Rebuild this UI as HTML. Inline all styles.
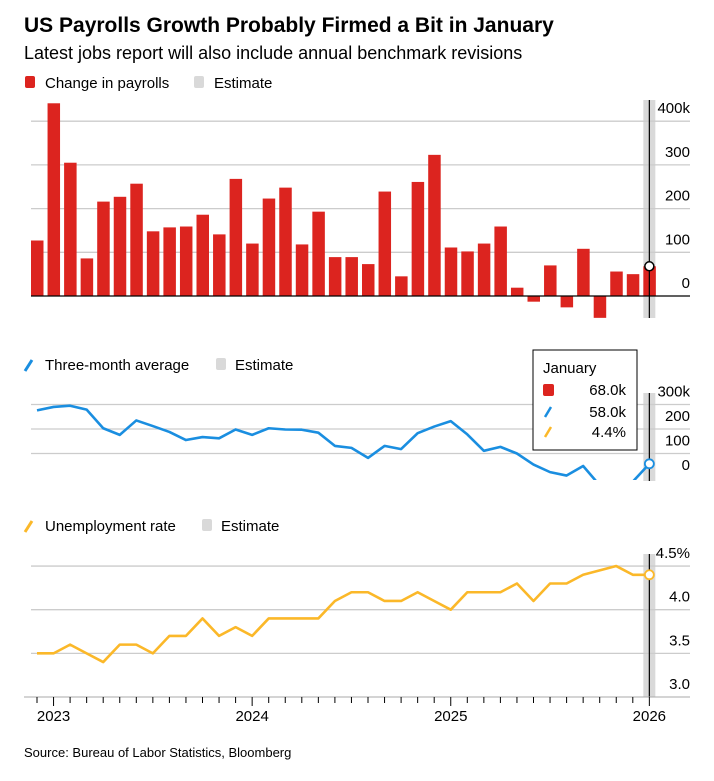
<!DOCTYPE html>
<html><head><meta charset="utf-8"><style>
body{margin:0;background:#fff;font-family:"Liberation Sans",Arial,sans-serif;}
svg text{font-family:"Liberation Sans",Arial,sans-serif;}
</style></head><body>
<svg id="c" width="714" height="776" xmlns="http://www.w3.org/2000/svg">
<text x="24" y="32" font-size="21" font-weight="bold" fill="#000">US Payrolls Growth Probably Firmed a Bit in January</text>
<text x="24" y="59" font-size="18" fill="#000">Latest jobs report will also include annual benchmark revisions</text>
<g>
<rect x="25" y="76" width="10" height="12" rx="2" fill="#dc241f"/>
<text x="45" y="88" font-size="15">Change in payrolls</text>
<rect x="194" y="76" width="10" height="12" rx="2" fill="#d9d9d9"/>
<text x="214" y="88" font-size="15">Estimate</text>
</g>
<g>
<line x1="25" y1="371" x2="32" y2="360" stroke="#1a8ee0" stroke-width="3"/>
<text x="45" y="370" font-size="15">Three-month average</text>
<rect x="216" y="358" width="10" height="12" rx="2" fill="#d9d9d9"/>
<text x="235" y="370" font-size="15">Estimate</text>
</g>
<g>
<line x1="25" y1="532" x2="32" y2="521" stroke="#fbb829" stroke-width="3"/>
<text x="45" y="531" font-size="15">Unemployment rate</text>
<rect x="202" y="519" width="10" height="12" rx="2" fill="#d9d9d9"/>
<text x="221" y="531" font-size="15">Estimate</text>
</g>
<g id="g1"></g><g id="g2"></g><g id="g3"></g><g id="gx"></g>
<g>
<rect x="533" y="350" width="104" height="100" fill="#fff" stroke="#000" stroke-width="1"/>
<text x="543" y="373" font-size="15">January</text>
<rect x="543" y="384" width="11" height="12" rx="2" fill="#dc241f"/>
<text x="626" y="395" font-size="15" text-anchor="end">68.0k</text>
<line x1="545" y1="417" x2="551" y2="407" stroke="#1a8ee0" stroke-width="2.5"/>
<text x="626" y="417" font-size="15" text-anchor="end">58.0k</text>
<line x1="545" y1="437" x2="551" y2="427" stroke="#fbb829" stroke-width="2.5"/>
<text x="626" y="437" font-size="15" text-anchor="end">4.4%</text>
</g>
<text x="24" y="757" font-size="13">Source: Bureau of Labor Statistics, Bloomberg</text>
</svg>
<script>
const payrolls=[127,441,305,86,216,227,257,148,157,159,186,141,268,120,223,248,118,193,89,89,73,239,45,261,323,111,102,120,159,19,-13,70,-26,108,-50,56,50,68];
const avg3=[276,290,295,279,203,176,235,212,188,155,167,162,198,176,203,198,197,185,131,123,82,131,118,183,210,232,178,111,127,100,55,24,10,49,-30,-20,-15,58];
const unemp=[3.5,3.5,3.6,3.5,3.4,3.6,3.6,3.5,3.7,3.7,3.9,3.7,3.8,3.7,3.9,3.9,3.9,3.9,4.1,4.2,4.2,4.1,4.1,4.2,4.1,4.0,4.2,4.2,4.2,4.3,4.1,4.3,4.3,4.4,null,4.5,4.4,4.4];
const payTicks=[0,100,200,300,400];const payLabels=["0","100","200","300","400k"];
const avgTicks=[0,100,200,300];const avgLabels=["0","100","200","300k"];
const uTicks=[3.0,3.5,4.0,4.5];const uLabels=["3.0","3.5","4.0","4.5%"];
const years=["2023","2024","2025","2026"];const yearIdx=[1,13,25,37];
const NS="http://www.w3.org/2000/svg";
const X=i=>37+16.55*i;
const y1=v=>296-v*0.437;
const y2=v=>478-v*0.245;
const y3=v=>697-(v-3)*87.3;
function mk(p,t,a){const e=document.createElementNS(NS,t);for(const k in a)e.setAttribute(k,a[k]);p.appendChild(e);return e;}
const g1=document.getElementById('g1'),g2=document.getElementById('g2'),g3=document.getElementById('g3'),gx=document.getElementById('gx');
const L=37;
let b=mk(g1,'rect',{x:X(L)-6,y:100,width:12,height:218,fill:'#d9d9d9'});


b=mk(g2,'rect',{x:X(L)-6,y:393,width:12,height:88,fill:'#d9d9d9'});


b=mk(g3,'rect',{x:X(L)-6,y:554,width:12,height:143,fill:'#d9d9d9'});


function grid(g,ticks,labels,yf,name,skipZero){
 ticks.forEach((t,i)=>{
  if(!(skipZero&&t===ticks[0])){const l=mk(g,'line',{x1:31,x2:690,y1:yf(t),y2:yf(t),stroke:'#cccccc','stroke-width':1.3});
  
  }
  const tx=mk(g,'text',{x:690,y:yf(t)-8,'font-size':15,'text-anchor':'end'});tx.textContent=labels[i];
  
  
 });
}
grid(g1,payTicks,payLabels,y1,'payrolls',true);
grid(g2,avgTicks,avgLabels,y2,'average',true);
grid(g3,uTicks,uLabels,y3,'unemployment',true);
payrolls.forEach((v,i)=>{
 const r=mk(g1,'rect',{x:X(i)-6,y:Math.min(y1(v),y1(0)),width:12.5,height:Math.abs(y1(v)-y1(0)),fill:'#dc241f'});
 
 
});
let z=mk(g1,'line',{x1:31,x2:690,y1:y1(0),y2:y1(0),stroke:'#000','stroke-width':1.3});


[[g1,100,318],[g2,393,481],[g3,554,697]].forEach(([g,a,c])=>{const l=mk(g,'line',{x1:X(L),x2:X(L),y1:a,y2:c,stroke:'#000','stroke-width':1.2});
 
 });
let c=mk(g1,'circle',{cx:X(L),cy:y1(payrolls[L]),r:4.5,fill:'#fff',stroke:'#000','stroke-width':1.5});


mk(g2,'clipPath',{id:'cp'}).appendChild(document.createElementNS(NS,'rect'));
const cr=document.querySelector('#cp rect');cr.setAttribute('x',0);cr.setAttribute('y',380);cr.setAttribute('width',714);cr.setAttribute('height',100);
let p=mk(g2,'path',{d:avg3.map((v,i)=>(i?'L':'M')+X(i)+','+y2(v)).join(''),fill:'none',stroke:'#1a8ee0','stroke-width':2.6,'stroke-linejoin':'round','clip-path':'url(#cp)'});


c=mk(g2,'circle',{cx:X(L),cy:y2(avg3[L]),r:4.5,fill:'#fff',stroke:'#1a8ee0','stroke-width':1.8});


let d='',first=true;unemp.forEach((v,i)=>{if(v==null)return;d+=(first?'M':'L')+X(i)+','+y3(v);first=false;});
p=mk(g3,'path',{d:d,fill:'none',stroke:'#fbb829','stroke-width':2.6,'stroke-linejoin':'round'});


c=mk(g3,'circle',{cx:X(L),cy:y3(unemp[L]),r:4.5,fill:'#fff',stroke:'#fbb829','stroke-width':1.8});


let ax=mk(gx,'line',{x1:24,x2:690,y1:697,y2:697,stroke:'#aaa','stroke-width':1});


payrolls.forEach((v,i)=>{const t=mk(gx,'line',{x1:X(i),x2:X(i),y1:697,y2:yearIdx.includes(i)?706:703,stroke:'#000','stroke-width':1});
 
 });
years.forEach((y,k)=>{const t=mk(gx,'text',{x:X(yearIdx[k]),y:721,'font-size':15,'text-anchor':'middle'});t.textContent=y;
 
 });
</script>
</body></html>
